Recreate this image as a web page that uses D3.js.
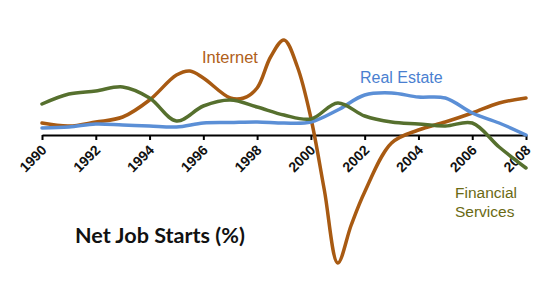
<!DOCTYPE html>
<html><head><meta charset="utf-8">
<script src="https://cdn.jsdelivr.net/npm/d3@7"></script>
<style>body{margin:0;background:#fff}svg{display:block}</style>
</head><body>
<script>
// Data (arbitrary units, 0 = axis)
const internetYears = [1990,1991,1992,1993,1994,1995,1995.5,1996,1997,1997.5,1998,1998.5,1999,1999.5,2000,2000.5,2001,2001.5,2002,2003,2004,2005,2006,2007,2008];
const internetValues = [12,9,13,18,35,60,64,57,37,37,47,78,95,68,17,-55,-128,-90,-57,-8,5,13,22,32,37];
const realEstateYears = [1990,1991,1992,1993,1994,1995,1996,1997,1998,1999,2000,2001,2002,2003,2004,2005,2006,2007,2008];
const realEstateValues = [7,8,11,10,9,8,12,12.5,13,12,13,25,40,42,38,37,22,12,0];
const financialYears = [1990,1991,1992,1993,1994,1995,1996,1997,1998,1999,2000,2001,2002,2003,2004,2005,2006,2007,2008];
const financialValues = [31,41,44,48,37,14,29,35,28,20,16,32,19,13,11,9,12,-12,-33];
const tickYears = [1990,1992,1994,1996,1998,2000,2002,2004,2006,2008];

const W = 559, H = 283;
const svg = d3.select("body").append("svg").attr("width", W).attr("height", H);
const x = d3.scaleLinear().domain([1990, 2008]).range([42, 526]);
const y = d3.scaleLinear().domain([-135, 135]).range([270, 0]);

const series = [
  {years: internetYears, values: internetValues, color: "#a85a12"},
  {years: realEstateYears, values: realEstateValues, color: "#5b8fd6"},
  {years: financialYears, values: financialValues, color: "#56702e"}
];
const line = d3.line().x(d => x(d[0])).y(d => y(d[1])).curve(d3.curveCatmullRom.alpha(0.5));

// axis
const axis = d3.axisBottom(x).tickValues(tickYears).tickFormat(d3.format("d")).tickSize(5).tickSizeOuter(0);
const gA = svg.append("g").attr("transform", `translate(0,${y(0)})`).call(axis);
gA.select(".domain").attr("stroke", "#000").attr("stroke-width", 2);
gA.selectAll(".tick line").attr("stroke", "#000").attr("stroke-width", 2);
gA.selectAll(".tick text")
  .attr("font-family", "Liberation Sans, Arial, sans-serif")
  .attr("font-weight", "bold").attr("font-size", 14).attr("fill", "#111")
  .attr("text-anchor", "end").attr("dy", null).attr("y", null)
  .attr("transform", "translate(5,16) rotate(-45)");

series.forEach(s => {
  svg.append("path")
    .datum(s.years.map((yr, i) => [yr, s.values[i]]))
    .attr("fill", "none").attr("stroke", s.color)
    .attr("stroke-width", 3.5).attr("stroke-linecap", "round")
    .attr("d", line);
});

const lab = (t, px, py, c, fs) => svg.append("text").text(t).attr("x", px).attr("y", py)
  .attr("fill", c).attr("font-family", "Liberation Sans, Arial, sans-serif").attr("font-size", fs);
lab("Internet", 202, 63, "#b0601a", 16.5);
lab("Real Estate", 360, 83, "#4a7fd0", 16);
lab("Financial", 455, 198, "#6a6a14", 15.5);
lab("Services", 455, 217, "#6a6a14", 15.5);

const title = svg.append("text").text("Net Job Starts (%)").attr("x", 75).attr("y", 243)
  .attr("font-family", "Lato, sans-serif").attr("font-weight", "bold").attr("font-size", 19).attr("fill", "#111");
const tw = title.node().getComputedTextLength();
title.attr("font-size", 19 * 170 / tw);
</script>
</body></html>
